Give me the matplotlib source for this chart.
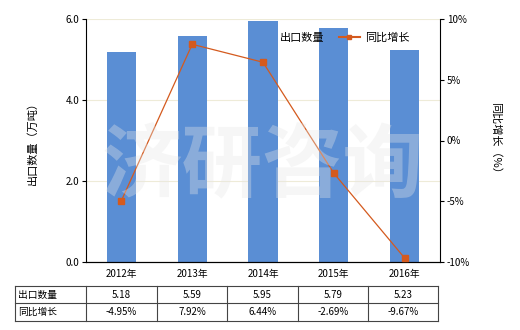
import matplotlib.pyplot as plt
from matplotlib.lines import Line2D

plt.rcParams['font.family'] = ['Noto Sans CJK SC', 'DejaVu Sans']

# Data
years = ["2012年", "2013年", "2014年", "2015年", "2016年"]
export_qty = [5.18, 5.59, 5.95, 5.79, 5.23]
yoy_growth = [-4.95, 7.92, 6.44, -2.69, -9.67]
qty_labels = ["5.18", "5.59", "5.95", "5.79", "5.23"]
growth_labels = ["-4.95%", "7.92%", "6.44%", "-2.69%", "-9.67%"]

bar_color = "#5A8ED4"
line_color = "#D45A1E"

fig = plt.figure(figsize=(5.2, 3.3), dpi=100)
W, H = 520, 330
ax = fig.add_axes([86 / W, 1 - 262 / H, 354 / W, 243 / H])
ax2 = ax.twinx()

x = range(len(years))
ax.bar(x, export_qty, width=0.41, color=bar_color, zorder=2, label="出口数量")
ax.set_xlim(-0.5, len(years) - 0.5)
ax.set_ylim(0, 6)
ax.set_yticks([0, 2, 4, 6])
ax.set_yticklabels(["0.0", "2.0", "4.0", "6.0"], fontsize=7)
ax.set_xticks(list(x))
ax.set_xticklabels(years, fontsize=7)
ax.tick_params(axis="x", length=0, pad=5)
ax.tick_params(axis="y", length=3, pad=2)
ax.grid(axis="y", color="#EEEBD8", linewidth=0.8, zorder=0)
ax.set_axisbelow(True)
ax.set_ylabel("出口数量（万吨）", fontsize=8, labelpad=20)

ax2.plot(x, yoy_growth, color=line_color, linewidth=0.9, marker="s",
         markersize=4, zorder=3, label="同比增长")
ax2.set_ylim(-10, 10)
ax2.set_yticks([-10, -5, 0, 5, 10])
ax2.set_yticklabels(["-10%", "-5%", "0%", "5%", "10%"], fontsize=7)
ax2.tick_params(axis="y", length=3, pad=2)
ax2.set_ylabel("同比增长（%）", fontsize=8, rotation=-90, labelpad=22)

for a in (ax, ax2):
    a.spines["top"].set_visible(False)
ax.spines["right"].set_visible(False)
ax2.spines["left"].set_visible(False)

# watermark
fig.text(262 / W, 1 - 168 / H, "济研咨询", fontsize=58, color="#E6E6E6",
         alpha=0.35, ha="center", va="center", fontweight="bold", zorder=10)

# legend
handles = [plt.Rectangle((0, 0), 1, 1, color=bar_color),
           Line2D([0], [0], color=line_color, marker="s", markersize=3, linewidth=1.5)]
fig.legend(handles, ["出口数量", "同比增长"], ncol=2, frameon=False, fontsize=8,
           loc="center left", bbox_to_anchor=(253 / W, 1 - 38 / H), handlelength=1.9,
           columnspacing=1.3, handletextpad=0.5, borderpad=0, borderaxespad=0)

# table below the chart
col_edges = [15, 86, 157, 227, 298, 368, 438]
row_edges = [286, 303, 321]
for xe in col_edges:
    fig.add_artist(Line2D([xe / W, xe / W], [1 - row_edges[0] / H, 1 - row_edges[-1] / H],
                          color="#444444", linewidth=0.8))
for ye in row_edges:
    fig.add_artist(Line2D([col_edges[0] / W, col_edges[-1] / W], [1 - ye / H, 1 - ye / H],
                          color="#444444", linewidth=0.8))
rows = [("出口数量", qty_labels), ("同比增长", growth_labels)]
for r, (name, vals) in enumerate(rows):
    yc = 1 - (row_edges[r] + row_edges[r + 1]) / 2 / H
    fig.text(18 / W, yc, name, fontsize=7, ha="left", va="center")
    for i, v in enumerate(vals):
        xc = (col_edges[i + 1] + col_edges[i + 2]) / 2 / W
        fig.text(xc, yc, v, fontsize=7, ha="center", va="center")

fig.savefig("out.png", dpi=100)
